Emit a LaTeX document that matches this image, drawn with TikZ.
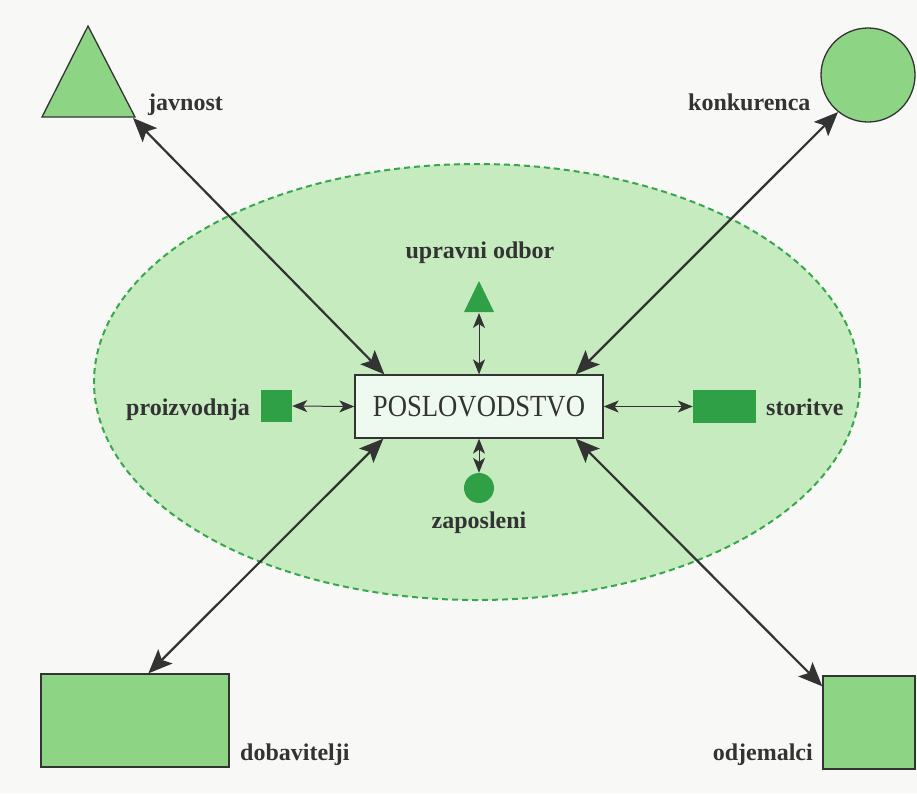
\documentclass[tikz,border=0pt]{standalone}
\usepackage{fontspec}
\setmainfont{Liberation Serif}
\usetikzlibrary{arrows.meta,calc}
\definecolor{bgcol}{HTML}{F8F8F6}
\definecolor{ellfill}{HTML}{C6EBBF}
\definecolor{elldraw}{HTML}{38A64C}
\definecolor{bigfill}{HTML}{8DD585}
\definecolor{smallfill}{HTML}{2FA046}
\definecolor{ink}{HTML}{333333}
\definecolor{boxfill}{HTML}{EEFAF0}
\tikzset{
  bigshape/.style={draw=ink, line width=1.3pt, fill=bigfill, inner sep=0pt},
  smallshape/.style={fill=smallfill, draw=none, inner sep=0pt},
  lab/.style={inner sep=0pt, text=ink, font=\fontsize{24}{28}\selectfont\bfseries},
  bigarrow/.style={draw=ink, line width=2.2pt, {Stealth[length=24pt,width=20pt,inset=5pt]}-{Stealth[length=24pt,width=20pt,inset=5pt]}},
  smallarrow/.style={draw=ink, line width=1pt, {Stealth[length=15pt,width=12pt,inset=4pt]}-{Stealth[length=15pt,width=12pt,inset=4pt]}}
}
\begin{document}
\begin{tikzpicture}[x=1pt,y=-1pt]
\fill[bgcol] (0,0) rectangle (917,793);
\useasboundingbox (0,0) rectangle (917,793);
% ellipse
\draw[fill=ellfill, draw=elldraw, line width=2pt, dash pattern=on 6pt off 4pt] (477,382) ellipse [x radius=383, y radius=218];
% centre box
\node[draw=ink, line width=1.3pt, fill=boxfill, minimum width=248pt, minimum height=63pt, inner sep=0pt, text=ink, font=\fontsize{26.7}{30}\selectfont] (box) at (479,406.5) {\scalebox{1}[1.15]{POSLOVODSTVO}};
% big outer shapes
\draw[bigshape] (88,26) -- (42,117) -- (135,117) -- cycle;
\coordinate (javc) at (133,118);
\node[bigshape, circle, minimum size=94pt] (konk) at (868,75) {};
\node[bigshape, rectangle, minimum width=188pt, minimum height=93pt] (dob) at (135,720.5) {};
\node[bigshape, rectangle, minimum width=92pt, minimum height=93pt] (odj) at (869,722.5) {};
% labels
\node[lab, anchor=base west] (ljav) at (148,110) {javnost};
\node[lab, anchor=base west] (lkonk) at (688,110) {konkurenca};
\node[lab, anchor=base west] (ldob) at (240,760) {dobavitelji};
\node[lab, anchor=base east] (lodj) at (813,760) {odjemalci};
\node[lab, anchor=base] (lupr) at (480,258) {upravni odbor};
\node[lab, anchor=base east] (lpro) at (250,415) {proizvodnja};
\node[lab, anchor=base west] (lsto) at (766,415) {storitve};
\node[lab, anchor=base] (lzap) at (479,528) {zaposleni};
% small inner shapes
\fill[smallfill] (479,281) -- (464,312) -- (494,312) -- cycle;
\coordinate (uprc) at (479,313);
\node[smallshape, circle, minimum size=30pt] (zap) at (479,488) {};
\node[smallshape, rectangle, minimum width=31pt, minimum height=32pt] (pro) at (276.5,406) {};
\node[smallshape, rectangle, minimum width=63pt, minimum height=33pt] (sto) at (724.5,406.5) {};
% big connectors
\draw[bigarrow] (javc) -- ($(box.north west)+(30,0)$);
\draw[bigarrow] (konk.231) -- ($(box.north east)+(-28,0)$);
\draw[bigarrow] ($(dob.north west)+(108,0)$) -- ($(box.south west)+(29,0)$);
\draw[bigarrow] ($(odj.north west)+(0,11)$) -- ($(box.south east)+(-28,0)$);
% small connectors
\draw[smallarrow] (uprc) -- (box.north);
\draw[smallarrow] (zap.north) -- (box.south);
\draw[smallarrow] (pro.east) -- (box.west);
\draw[smallarrow] (box.east) -- (sto.west);
\end{tikzpicture}
\end{document}
